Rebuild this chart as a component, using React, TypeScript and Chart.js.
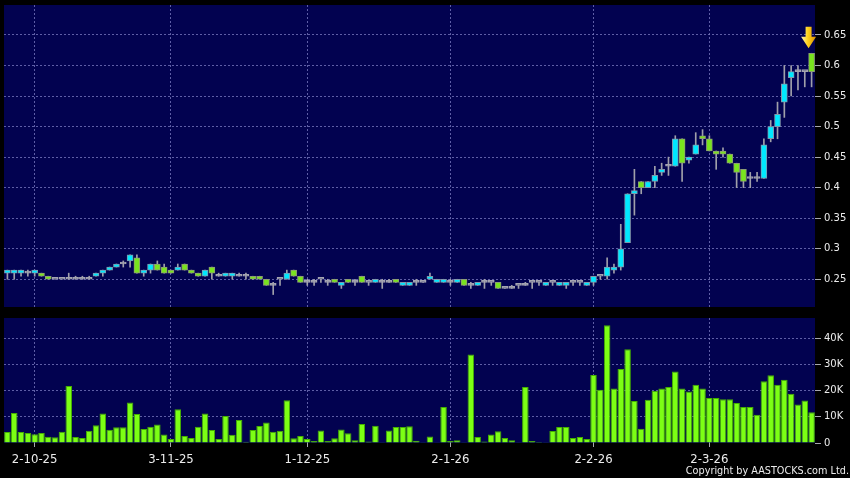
import React, { useEffect, useRef } from "react";
import { Chart, registerables } from "chart.js";

Chart.register(...registerables);

// ---------- data ----------
const DATES = [
  "25-9-25","26-9-25","29-9-25","30-9-25",
  "2-10-25","3-10-25","6-10-25","8-10-25","9-10-25","10-10-25","13-10-25","14-10-25","15-10-25","16-10-25","17-10-25","20-10-25","21-10-25","22-10-25","23-10-25","24-10-25","27-10-25","28-10-25","30-10-25","31-10-25",
  "3-11-25","4-11-25","5-11-25","6-11-25","7-11-25","10-11-25","11-11-25","12-11-25","13-11-25","14-11-25","17-11-25","18-11-25","19-11-25","20-11-25","21-11-25","24-11-25","25-11-25","26-11-25","27-11-25","28-11-25",
  "1-12-25","2-12-25","3-12-25","4-12-25","5-12-25","8-12-25","9-12-25","10-12-25","11-12-25","12-12-25","15-12-25","16-12-25","17-12-25","18-12-25","19-12-25","22-12-25","23-12-25","24-12-25","29-12-25","30-12-25","31-12-25",
  "2-1-26","5-1-26","6-1-26","7-1-26","8-1-26","9-1-26","12-1-26","13-1-26","14-1-26","15-1-26","16-1-26","19-1-26","20-1-26","21-1-26","22-1-26","23-1-26","26-1-26","27-1-26","28-1-26","29-1-26","30-1-26",
  "2-2-26","3-2-26","4-2-26","5-2-26","6-2-26","9-2-26","10-2-26","11-2-26","12-2-26","13-2-26","16-2-26","20-2-26","23-2-26","24-2-26","25-2-26","26-2-26","27-2-26",
  "2-3-26","3-3-26","4-3-26","5-3-26","6-3-26","9-3-26","10-3-26","11-3-26","12-3-26","13-3-26","16-3-26","17-3-26","18-3-26","19-3-26","20-3-26","23-3-26",
];

const TICK_DATES = ["2-10-25", "3-11-25", "1-12-25", "2-1-26", "2-2-26", "2-3-26"];

const OPEN = [
  0.26,0.26,0.26,0.26,0.26,0.26,0.255,0.25,0.25,0.25,
  0.25,0.25,0.25,0.255,0.26,0.265,0.27,0.275,0.28,0.285,
  0.26,0.265,0.275,0.27,0.265,0.265,0.275,0.265,0.26,0.255,
  0.27,0.255,0.255,0.255,0.255,0.255,0.255,0.255,0.25,0.24,
  0.25,0.25,0.265,0.255,0.245,0.245,0.25,0.245,0.25,0.24,
  0.25,0.245,0.255,0.245,0.245,0.245,0.245,0.25,0.24,0.24,
  0.245,0.245,0.25,0.245,0.245,0.245,0.245,0.25,0.24,0.24,
  0.245,0.245,0.245,0.235,0.235,0.24,0.24,0.245,0.245,0.24,
  0.245,0.24,0.24,0.245,0.245,0.24,0.245,0.255,0.255,0.265,
  0.27,0.31,0.39,0.41,0.40,0.41,0.425,0.435,0.435,0.48,
  0.445,0.455,0.485,0.48,0.46,0.46,0.455,0.44,0.43,0.415,
  0.415,0.415,0.48,0.50,0.54,0.58,0.59,0.59,0.62,
];

const HIGH = [
  0.265,0.265,0.265,0.265,0.265,0.26,0.255,0.25,0.25,0.26,
  0.255,0.255,0.255,0.26,0.265,0.27,0.275,0.28,0.29,0.29,
  0.265,0.275,0.28,0.275,0.265,0.275,0.275,0.265,0.26,0.265,
  0.27,0.26,0.26,0.26,0.26,0.26,0.255,0.255,0.25,0.245,
  0.25,0.265,0.265,0.255,0.25,0.25,0.25,0.25,0.25,0.245,
  0.25,0.25,0.255,0.245,0.25,0.25,0.25,0.25,0.245,0.245,
  0.25,0.245,0.26,0.25,0.25,0.25,0.25,0.25,0.245,0.245,
  0.25,0.245,0.245,0.235,0.24,0.24,0.245,0.245,0.245,0.245,
  0.245,0.245,0.245,0.245,0.245,0.245,0.255,0.255,0.285,0.275,
  0.34,0.39,0.43,0.41,0.41,0.435,0.44,0.45,0.485,0.48,
  0.45,0.49,0.495,0.485,0.46,0.465,0.455,0.44,0.43,0.425,
  0.425,0.48,0.51,0.54,0.60,0.60,0.60,0.59,0.62,
];

const LOW = [
  0.25,0.25,0.255,0.255,0.255,0.255,0.25,0.25,0.25,0.25,
  0.25,0.25,0.25,0.255,0.255,0.265,0.27,0.27,0.27,0.26,
  0.255,0.26,0.265,0.26,0.26,0.265,0.265,0.26,0.255,0.255,
  0.25,0.255,0.255,0.25,0.255,0.25,0.25,0.25,0.24,0.225,
  0.24,0.25,0.255,0.245,0.24,0.24,0.245,0.24,0.245,0.235,
  0.245,0.24,0.245,0.24,0.245,0.235,0.245,0.245,0.24,0.24,
  0.24,0.245,0.25,0.245,0.245,0.24,0.245,0.24,0.235,0.24,
  0.235,0.24,0.235,0.235,0.235,0.235,0.24,0.235,0.24,0.24,
  0.24,0.24,0.235,0.24,0.24,0.24,0.24,0.25,0.25,0.26,
  0.265,0.31,0.355,0.39,0.40,0.40,0.42,0.42,0.435,0.41,
  0.44,0.455,0.47,0.46,0.43,0.45,0.44,0.40,0.40,0.40,
  0.41,0.415,0.475,0.48,0.515,0.55,0.56,0.565,0.565,
];

const CLOSE = [
  0.265,0.265,0.265,0.26,0.265,0.255,0.25,0.25,0.25,0.25,
  0.25,0.25,0.25,0.26,0.265,0.27,0.275,0.275,0.29,0.26,
  0.265,0.275,0.265,0.26,0.26,0.27,0.265,0.26,0.255,0.265,
  0.26,0.255,0.26,0.26,0.255,0.255,0.25,0.25,0.24,0.24,
  0.25,0.26,0.255,0.245,0.245,0.245,0.25,0.245,0.245,0.245,
  0.245,0.245,0.245,0.245,0.25,0.245,0.245,0.245,0.245,0.245,
  0.245,0.245,0.255,0.25,0.25,0.245,0.25,0.24,0.24,0.245,
  0.245,0.245,0.235,0.235,0.235,0.24,0.24,0.245,0.245,0.245,
  0.245,0.245,0.245,0.245,0.245,0.245,0.255,0.255,0.27,0.27,
  0.30,0.39,0.395,0.40,0.41,0.42,0.43,0.435,0.48,0.44,
  0.45,0.47,0.48,0.46,0.455,0.455,0.44,0.425,0.41,0.415,
  0.415,0.47,0.50,0.52,0.57,0.59,0.59,0.59,0.59,
];

// volume in thousands of shares
const VOLUME_K = [
  4.2,11.5,4.2,3.8,3.4,3.8,2.4,2.2,4.3,21.8,
  2.3,1.9,4.7,6.8,11.3,5.1,6.0,6.0,15.5,11.1,
  5.4,6.2,7.1,3.3,1.5,12.9,2.7,1.9,6.2,11.3,
  5.0,1.5,10.3,3.2,8.8,0.5,5.0,6.5,7.9,4.3,
  4.7,16.4,1.8,2.7,1.5,0.8,4.8,0.8,1.8,5.2,
  3.7,1.1,7.3,0.6,6.6,0.3,4.8,6.1,6.1,6.4,
  0.9,0.3,2.5,0.1,13.8,0.8,1.1,0.3,33.9,2.3,
  0.6,3.3,4.5,1.9,1.1,0.3,21.5,0.8,0.4,0.3,
  4.6,6.1,6.1,1.9,2.3,1.5,26.1,20.4,45.1,20.9,
  28.4,35.9,16.1,5.5,16.6,20.0,20.9,21.5,27.4,20.9,
  19.7,22.3,20.9,17.2,17.2,16.8,16.8,15.3,13.8,13.8,
  10.8,23.7,26.0,22.3,24.2,18.9,14.8,16.3,11.8,
];

const PRICE_TICKS = [0.25, 0.3, 0.35, 0.4, 0.45, 0.5, 0.55, 0.6, 0.65];
const PRICE_MIN = 0.2046;
const PRICE_MAX = 0.699;
const VOLUME_TICKS = [0, 10, 20, 30, 40];
const VOLUME_MAX = 47.9;

// ---------- styles ----------
const NAVY = "#020250";
const GRID = "rgba(125,125,195,0.75)";
const TEXT = "#ececec";
const TICKMARK = "#a8a8b0";
const UP_FILL = "#00e8ff";
const UP_BORDER = "#7f98ac";
const DOWN_FILL = "#79e41e";
const DOWN_BORDER = "#8c9c74";
const FLAT = "#a4a4b0";
const WICK = "#a0a0aa";
const VOL_FILL = "#7cff14";
const VOL_BORDER = "#45b000";
const FONT = "'DejaVu Sans', sans-serif";

const areaBg = {
  id: "areaBg",
  beforeDraw(chart: any) {
    const { ctx, chartArea } = chart;
    ctx.save();
    ctx.fillStyle = NAVY;
    ctx.fillRect(chartArea.left, chartArea.top, chartArea.right - chartArea.left, chartArea.bottom - chartArea.top);
    ctx.restore();
  },
};

const lastArrow = {
  id: "lastArrow",
  afterDatasetsDraw(chart: any) {
    const last = DATES.length - 1;
    const x = chart.scales.x.getPixelForValue(last) - 3;
    const tip = chart.scales.y.getPixelForValue(HIGH[last]) - 5;
    const ctx = chart.ctx;
    ctx.save();
    const g = ctx.createLinearGradient(x - 7.5, 0, x + 7.5, 0);
    g.addColorStop(0, "#fff4b0");
    g.addColorStop(0.45, "#ffd21a");
    g.addColorStop(1, "#d98c00");
    ctx.fillStyle = g;
    ctx.beginPath();
    ctx.moveTo(x - 3, tip - 21.5);
    ctx.lineTo(x + 3, tip - 21.5);
    ctx.lineTo(x + 3, tip - 11.5);
    ctx.lineTo(x + 7.5, tip - 11.5);
    ctx.lineTo(x, tip);
    ctx.lineTo(x - 7.5, tip - 11.5);
    ctx.lineTo(x - 3, tip - 11.5);
    ctx.closePath();
    ctx.fill();
    ctx.restore();
  },
};

function keepDateTicks(scale: any) {
  scale.ticks = scale.ticks.filter((t: any) => TICK_DATES.includes(DATES[t.value]));
}

function fixYWidth(s: any) {
  s.width = 35;
  s.paddingTop = 0;
  s.paddingBottom = 0;
}

const baseOptions = {
  responsive: false,
  maintainAspectRatio: false,
  animation: false as const,
  devicePixelRatio: 1,
  events: [] as any[],
  plugins: { legend: { display: false }, tooltip: { enabled: false } },
};

export default function App() {
  const priceRef = useRef<HTMLCanvasElement | null>(null);
  const volRef = useRef<HTMLCanvasElement | null>(null);

  useEffect(() => {
    Chart.defaults.font.family = FONT;

    const bodyColor = DATES.map((_, i) =>
      CLOSE[i] > OPEN[i] ? UP_FILL : CLOSE[i] < OPEN[i] ? DOWN_FILL : FLAT
    );
    const bodyBorder = DATES.map((_, i) =>
      CLOSE[i] > OPEN[i] ? UP_BORDER : CLOSE[i] < OPEN[i] ? DOWN_BORDER : FLAT
    );

    const priceChart = new Chart(priceRef.current as HTMLCanvasElement, {
      type: "bar",
      data: {
        labels: DATES,
        datasets: [
          {
            label: "body",
            data: DATES.map((_, i) => [Math.min(OPEN[i], CLOSE[i]), Math.max(OPEN[i], CLOSE[i])]) as any,
            backgroundColor: bodyColor,
            borderColor: bodyBorder,
            borderWidth: 1,
            borderSkipped: false,
            barThickness: 6,
            minBarLength: 2,
            grouped: false,
          } as any,
          {
            label: "wick",
            data: DATES.map((_, i) => [LOW[i], HIGH[i]]) as any,
            backgroundColor: WICK,
            borderWidth: 0,
            barThickness: 1,
            grouped: false,
          } as any,
        ],
      },
      options: {
        ...baseOptions,
        layout: { padding: { left: 4, top: 5, right: 0, bottom: 5 } },
        scales: {
          x: {
            type: "category",
            offset: true,
            afterBuildTicks: keepDateTicks,
            afterFit: (s: any) => { s.height = 0; s.paddingLeft = 0; s.paddingRight = 0; },
            ticks: { display: false, autoSkip: false },
            grid: { color: GRID, drawTicks: false, offset: false },
            border: { display: false, dash: [2, 2] },
          },
          y: {
            position: "right",
            min: PRICE_MIN,
            max: PRICE_MAX,
            afterBuildTicks: (s: any) => { s.ticks = PRICE_TICKS.map((v) => ({ value: v })); },
            afterFit: fixYWidth,
            ticks: {
              color: TEXT,
              font: { size: 10, family: FONT },
              padding: 3,
              callback: (v: any) => String(Number(v)),
            },
            grid: { color: GRID, tickLength: 6, tickColor: TICKMARK, tickBorderDash: [] },
            border: { display: false, dash: [2, 2] },
          },
        },
      } as any,
      plugins: [areaBg, lastArrow],
    });

    const volChart = new Chart(volRef.current as HTMLCanvasElement, {
      type: "bar",
      data: {
        labels: DATES,
        datasets: [
          {
            label: "volume",
            data: VOLUME_K,
            backgroundColor: VOL_FILL,
            borderColor: VOL_BORDER,
            borderWidth: 1,
            borderSkipped: "bottom",
            barPercentage: 0.96,
            categoryPercentage: 1,
          } as any,
        ],
      },
      options: {
        ...baseOptions,
        layout: { padding: { left: 4, top: 6, right: 0, bottom: 0 } },
        scales: {
          x: {
            type: "category",
            offset: true,
            afterBuildTicks: keepDateTicks,
            afterFit: (s: any) => { s.height = 35; s.paddingLeft = 0; s.paddingRight = 0; },
            ticks: {
              color: TEXT,
              font: { size: 11.7, family: FONT },
              padding: 6,
              autoSkip: false,
              maxRotation: 0,
            },
            grid: { color: GRID, tickLength: 4, tickColor: TICKMARK, tickBorderDash: [], offset: false },
            border: { display: false, dash: [2, 2] },
          },
          y: {
            position: "right",
            min: 0,
            max: VOLUME_MAX,
            afterBuildTicks: (s: any) => { s.ticks = VOLUME_TICKS.map((v) => ({ value: v })); },
            afterFit: fixYWidth,
            ticks: {
              color: TEXT,
              font: { size: 10, family: FONT },
              padding: 3,
              callback: (v: any) => (Number(v) === 0 ? "0" : `${v}K`),
            },
            grid: {
              color: (ctx: any) => (ctx.tick && ctx.tick.value === 0 ? "rgba(0,0,0,0)" : GRID),
              tickLength: 6,
              tickColor: TICKMARK,
              tickBorderDash: [],
            },
            border: { display: false, dash: [2, 2] },
          },
        },
      } as any,
      plugins: [areaBg],
    });

    return () => {
      priceChart.destroy();
      volChart.destroy();
    };
  }, []);

  return (
    <div style={{ position: "fixed", left: 0, top: 0, width: 850, height: 478, background: "#000", overflow: "hidden" }}>
      <canvas ref={priceRef} width={850} height={312} style={{ position: "absolute", left: 0, top: 0, width: 850, height: 312 }} />
      <canvas ref={volRef} width={850} height={166} style={{ position: "absolute", left: 0, top: 312, width: 850, height: 166 }} />
      <div
        style={{
          position: "absolute",
          right: 1,
          top: 466,
          fontFamily: FONT,
          fontSize: "9.7px",
          lineHeight: "10px",
          color: TEXT,
          whiteSpace: "nowrap",
        }}
      >
        Copyright by AASTOCKS.com Ltd.
      </div>
    </div>
  );
}
